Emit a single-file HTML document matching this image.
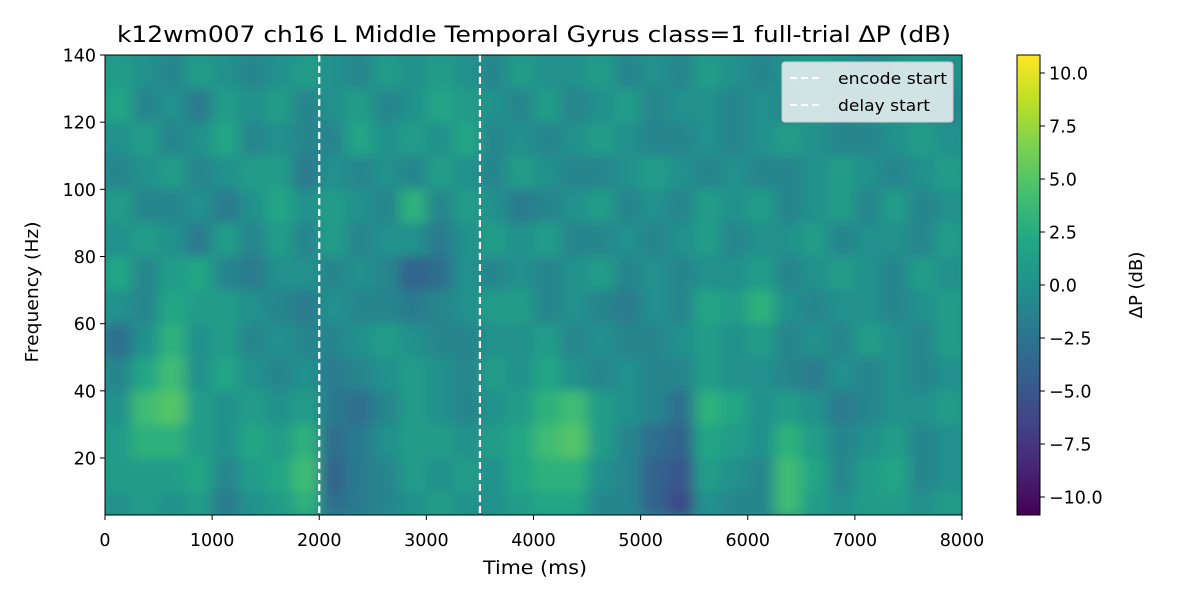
<!DOCTYPE html>
<html><head><meta charset="utf-8"><style>
body{margin:0;background:#fff;}
svg text{font-family:"DejaVu Sans","Liberation Sans",sans-serif;fill:#000;}
</style></head><body>
<svg id="chart" width="1200" height="600" viewBox="0 0 1200 600">
<defs>
<clipPath id="plotclip"><rect x="105" y="55" width="857" height="460"/></clipPath>
<filter id="blur" filterUnits="userSpaceOnUse" x="105" y="55" width="857" height="460">
<feGaussianBlur stdDeviation="7 5" edgeMode="duplicate"/>
</filter>
<linearGradient id="vir" x1="0" y1="1" x2="0" y2="0">
<stop offset="0" stop-color="#440154"/><stop offset="0.1" stop-color="#482475"/>
<stop offset="0.2" stop-color="#414487"/><stop offset="0.3" stop-color="#355f8d"/>
<stop offset="0.4" stop-color="#2a788e"/><stop offset="0.5" stop-color="#21918c"/>
<stop offset="0.6" stop-color="#22a884"/><stop offset="0.7" stop-color="#44bf70"/>
<stop offset="0.8" stop-color="#7ad151"/><stop offset="0.9" stop-color="#bddf26"/>
<stop offset="1" stop-color="#fde725"/>
</linearGradient>
</defs>
<text x="117" y="42" font-size="22" textLength="834" lengthAdjust="spacingAndGlyphs">k12wm007 ch16 L Middle Temporal Gyrus class=1 full-trial ΔP (dB)</text>
<rect x="105" y="55" width="857" height="460" fill="#21918c"/>
<g id="cells" clip-path="url(#plotclip)"><g id="cellsInner" filter="url(#blur)"></g></g>
<g id="overlay"></g>
<rect x="105" y="55" width="857" height="460" fill="none" stroke="#000" stroke-width="1"/>
<g id="xaxis"></g><g id="yaxis"></g>
<text x="483" y="574" font-size="19" textLength="104" lengthAdjust="spacingAndGlyphs">Time (ms)</text>
<text x="38" y="292" font-size="18" text-anchor="middle" transform="rotate(-90 38 292)" textLength="141" lengthAdjust="spacingAndGlyphs">Frequency (Hz)</text>
<g>
<rect x="782" y="62" width="171" height="60" rx="3" fill="#eef2f3" fill-opacity="0.85" stroke="#ccc"/>
<line x1="790" y1="78" x2="820" y2="78" stroke="#fff" stroke-width="2" stroke-dasharray="7,4"/>
<text x="838" y="84" font-size="16" textLength="109" lengthAdjust="spacingAndGlyphs">encode start</text>
<line x1="790" y1="105" x2="820" y2="105" stroke="#fff" stroke-width="2" stroke-dasharray="7,4"/>
<text x="838" y="111" font-size="16" textLength="92" lengthAdjust="spacingAndGlyphs">delay start</text>
</g>
<rect x="1017" y="55" width="23" height="460" fill="url(#vir)" stroke="#000" stroke-width="1"/>
<g id="cbaxis"></g>
<text x="1142" y="285" font-size="18" text-anchor="middle" transform="rotate(-90 1142 285)">ΔP (dB)</text>
</svg>
<script>
const timeEdges = [0,250,500,750,1000,1250,1500,1750,2000,2250,2500,2750,3000,3250,3500,3750,4000,4250,4500,4750,5000,5250,5500,5750,6000,6250,6500,6750,7000,7250,7500,7750,8000];
const freqCenters = [135,125,115,105,95,85,75,65,55,45,35,25,15,5];
const freqEdges = [140,130,120,110,100,90,80,70,60,50,40,30,20,10,3];
const power = [
[1,0,-1,1,0,-1,0,1,0,-1,1,0,1,0,-1,1,0,0,1,-1,0,-1,1,0,-1,0,1,0,-1,0,1,0],
[2,-1,0,-2,1,0,1,-1,0,1,-1,0,2,1,0,-1,1,-1,0,1,-1,0,0,-1,0,-1,1,-1,0,1,0,-1],
[0,1,-1,0,2,-1,0,-1,-1,2,0,1,0,2,-1,0,-1,0,1,0,-1,-1,0,-1,0,1,0,-1,-1,0,1,0],
[-1,0,1,-1,0,1,1,-2,0,-1,0,-1,1,0,-1,1,0,-1,-1,0,1,0,-1,0,-1,-1,0,1,0,-1,0,1],
[1,-1,-1,0,-2,0,2,0,1,0,-1,3,-1,1,0,-2,-1,0,1,-1,0,-1,1,0,1,-1,0,1,-1,1,-1,0],
[0,1,0,-2,1,-1,1,-1,1,-1,0,0,-2,0,1,0,1,-1,-1,0,-1,0,1,-1,0,0,1,-1,0,0,-1,1],
[2,-1,1,2,-1,-2,0,0,-1,0,-1,-4,-3,0,-1,0,-1,0,1,-1,0,-1,0,0,1,-1,0,1,0,-1,1,0],
[0,-1,2,1,1,0,-1,-2,0,-1,-1,-2,-1,0,1,1,-1,0,-1,-2,0,-1,2,1,3,0,-1,0,0,-1,0,1],
[-3,0,3,0,1,-1,0,-1,-1,0,1,0,-1,-1,0,0,1,-1,0,-1,-1,0,1,0,1,-1,0,-1,1,0,-1,1],
[-1,2,4,0,2,0,-1,0,-2,-1,0,1,0,-1,1,0,2,0,-1,0,-1,-1,1,0,0,-1,-2,0,-1,0,-1,0],
[0,4,5,1,0,1,0,1,-2,-3,-1,1,0,-1,0,1,3,4,1,0,-1,-3,3,2,0,1,0,-2,-1,0,0,1],
[1,3,3,1,0,2,1,3,-3,-2,0,1,1,0,1,2,4,5,1,-1,-3,-4,2,1,0,3,1,-1,0,1,-1,0],
[1,1,1,2,-1,1,2,4,-4,-2,-1,1,0,1,0,2,3,3,0,-1,-4,-5,1,0,-1,4,2,-1,1,2,-1,0],
[0,1,0,1,-2,0,1,3,-3,-2,-1,0,1,0,0,1,2,2,-1,-1,-4,-6,0,-1,-1,4,1,0,1,1,0,1]
];
const xTicks = [0,1000,2000,3000,4000,5000,6000,7000,8000];
const yTicks = [20,40,60,80,100,120,140];
const cbTicks = [10,7.5,5,2.5,0,-2.5,-5,-7.5,-10];
const eventTimes = [2000,3500];
const eventNames = ['encode-start-line','delay-start-line'];

const NS='http://www.w3.org/2000/svg';
const X=t=>105+t*(857/8000);
const Y=f=>458-(f-20)*(403/120);
const C=v=>285-v*21.2;
const VMIN=-10.85,VMAX=10.85;
const vir=[[68,1,84],[72,36,117],[65,68,135],[53,95,141],[42,120,142],[33,145,140],[34,168,132],[68,191,112],[122,209,81],[189,223,38],[253,231,37]];
function cmap(v){let t=(v-VMIN)/(VMAX-VMIN);t=Math.max(0,Math.min(1,t))*10;const i=Math.min(9,Math.floor(t)),f=t-i;
const a=vir[i],b=vir[i+1];return 'rgb('+a.map((c,k)=>Math.round(c+(b[k]-c)*f)).join(',')+')';}
function mk(tag,attrs,parent){const e=document.createElementNS(NS,tag);for(const k in attrs)e.setAttribute(k,attrs[k]);parent.appendChild(e);return e;}

const cg=document.getElementById('cellsInner');
power.forEach((row,r)=>{row.forEach((v,c)=>{
  const x0=X(timeEdges[c]),x1=X(timeEdges[c+1]),y0=Y(freqEdges[r]),y1=Y(freqEdges[r+1]);
  const el=mk('rect',{x:x0,y:y0,width:x1-x0+0.5,height:y1-y0+0.5,fill:cmap(v)},cg);
  
  
});});

const ov=document.getElementById('overlay');
eventTimes.forEach((t,i)=>{
  const el=mk('line',{x1:X(t),x2:X(t),y1:55,y2:515,stroke:'#fff','stroke-width':2.2,'stroke-dasharray':'7,4'},ov);
  
  
});

const xa=document.getElementById('xaxis');
xTicks.forEach(t=>{
  const l=mk('line',{x1:X(t),x2:X(t),y1:515,y2:520,stroke:'#000'},xa);
  
  
  const tx=mk('text',{x:X(t),y:546,'font-size':'17.5','text-anchor':'middle'},xa);tx.textContent=t;
  
  
});
const ya=document.getElementById('yaxis');
yTicks.forEach(f=>{
  const l=mk('line',{x1:100,x2:105,y1:Y(f),y2:Y(f),stroke:'#000'},ya);
  
  
  const tx=mk('text',{x:96,y:Y(f)+6.5,'font-size':'17.5','text-anchor':'end'},ya);tx.textContent=f;
  
  
});
const ca=document.getElementById('cbaxis');
cbTicks.forEach(v=>{
  const l=mk('line',{x1:1040,x2:1045,y1:C(v),y2:C(v),stroke:'#000'},ca);
  
  
  const tx=mk('text',{x:1049,y:C(v)+6.5,'font-size':'17.5'},ca);tx.textContent=(v<0?'\u2212':'')+Math.abs(v).toFixed(1);
  
  
});
</script>
</body></html>
